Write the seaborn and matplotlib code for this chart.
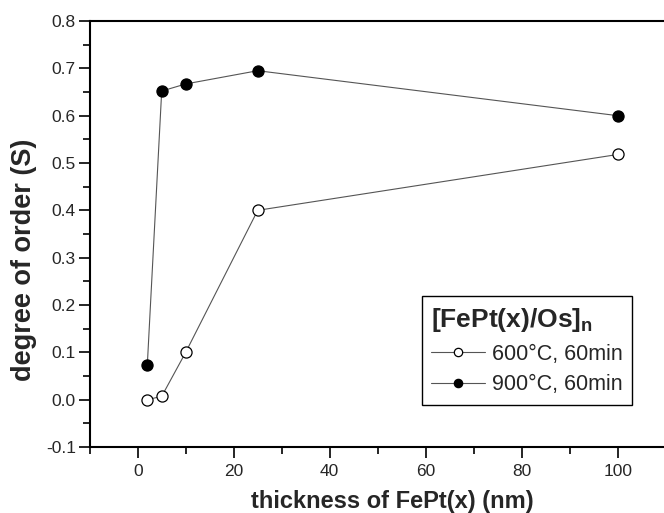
import matplotlib
matplotlib.use('Agg')
import matplotlib.pyplot as plt
import seaborn as sns
from matplotlib.ticker import MultipleLocator

# Data
thickness = [2, 5, 10, 25, 100]
order_600 = [0.0, 0.007, 0.10, 0.40, 0.518]
order_900 = [0.073, 0.652, 0.667, 0.695, 0.60]
label_600 = '600°C, 60min'
label_900 = '900°C, 60min'
legend_title = '[FePt(x)/Os]$_\\mathbf{n}$'

sns.set_style('ticks')
plt.rcParams['font.family'] = ['Liberation Sans', 'DejaVu Sans']
plt.rcParams['mathtext.fontset'] = 'custom'
plt.rcParams['mathtext.rm'] = 'Liberation Sans'
plt.rcParams['mathtext.bf'] = 'Liberation Sans:bold'

fig = plt.figure(figsize=(6.64, 5.13), dpi=100)
ax = fig.add_axes([89.7 / 664, 66 / 513, 576 / 664, 426 / 513])

line_kw = dict(color='#555555', linewidth=0.8, marker='o', markersize=8,
               markeredgecolor='black', markeredgewidth=0.9)
sns.lineplot(x=thickness, y=order_600, ax=ax, markerfacecolor='white',
             label=label_600, **line_kw)
sns.lineplot(x=thickness, y=order_900, ax=ax, markerfacecolor='black',
             label=label_900, **line_kw)

ax.set_xlim(-10, 110)
ax.set_ylim(-0.1, 0.8)
ax.xaxis.set_major_locator(MultipleLocator(20))
ax.xaxis.set_minor_locator(MultipleLocator(10))
ax.yaxis.set_major_locator(MultipleLocator(0.1))
ax.yaxis.set_minor_locator(MultipleLocator(0.05))
ax.yaxis.set_major_formatter(plt.FormatStrFormatter('%.1f'))
ax.tick_params(which='major', length=8, width=1.2, labelsize=12.5, color='black')
ax.tick_params(which='minor', length=5, width=1.2, color='black')
ax.tick_params(axis='x', pad=4)
ax.tick_params(axis='y', pad=2)

for s in ['left', 'bottom', 'top']:
    ax.spines[s].set_linewidth(1.5)
    ax.spines[s].set_color('black')
ax.spines['right'].set_visible(False)

ax.set_xlabel('thickness of FePt(x) (nm)', fontsize=17, fontweight='bold')
ax.set_ylabel('degree of order (S)', fontsize=19.5, fontweight='bold')
ax.xaxis.set_label_coords(0.526, -0.1)
ax.yaxis.set_label_coords(-0.114, 0.439)
ax.yaxis.label.set_va('center')

leg = ax.legend(title=legend_title, loc='lower right',
                bbox_to_anchor=(632 / 664, 108 / 513), bbox_transform=fig.transFigure,
                borderaxespad=0, fancybox=False, framealpha=1, edgecolor='black',
                fontsize=15.5, handlelength=2.5, handletextpad=0.3,
                labelspacing=0.45, borderpad=0.45, alignment='left',
                title_fontproperties={'weight': 'bold', 'size': 19})
leg.get_frame().set_linewidth(1.0)
for h in leg.legend_handles:
    h.set_markersize(6)

fig.savefig('out.png', dpi=100)
